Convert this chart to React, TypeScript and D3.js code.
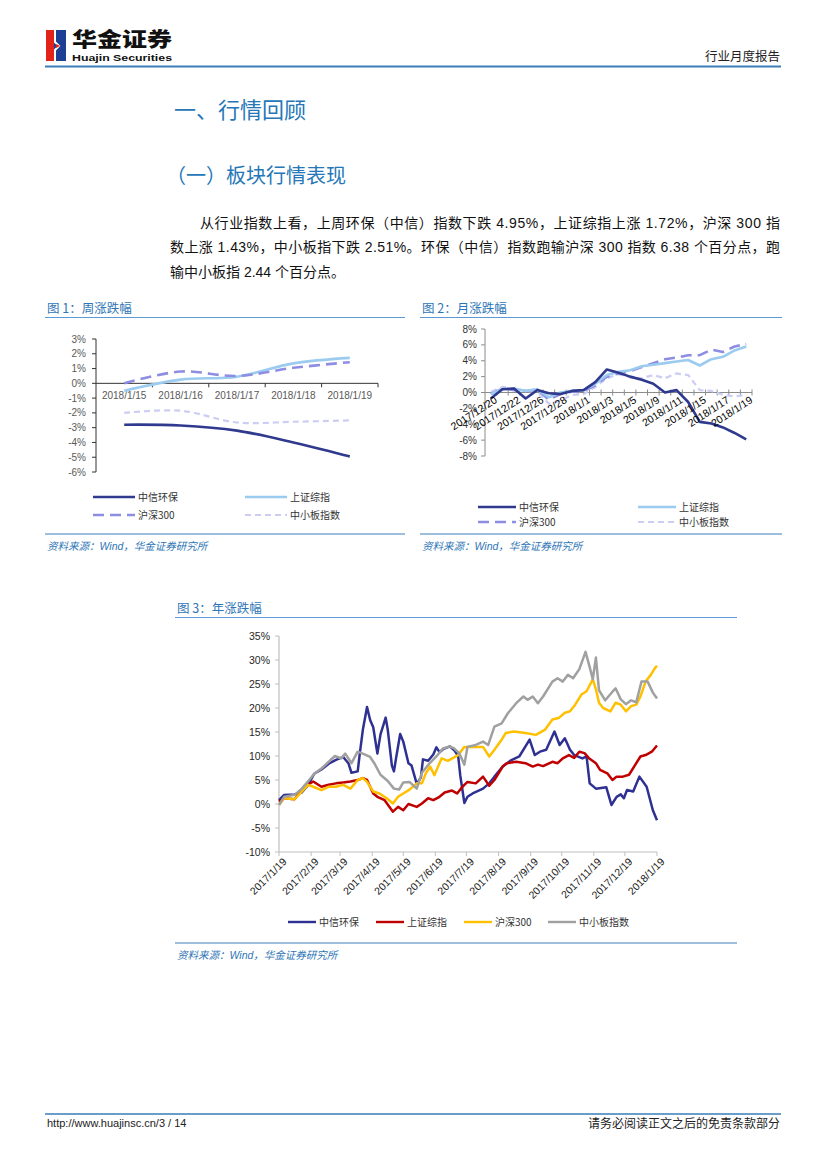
import * as d3 from 'd3'

const LATIN = '"Liberation Sans", Arial, "Noto Sans CJK SC", sans-serif'
const CJK = '"Noto Sans CJK SC", "Liberation Sans", sans-serif'
const HEAD_BLUE = '#2577b8'
const TITLE_BLUE = '#2e75b6'

// 图1：周涨跌幅
const WEEK_DATES = ['2018/1/15', '2018/1/16', '2018/1/17', '2018/1/18', '2018/1/19']
const WEEK_HUANBAO = [-2.8, -2.85, -3.2, -4.0, -4.95]
const WEEK_SHANGZHENG = [-0.5, 0.25, 0.45, 1.35, 1.72]
const WEEK_HS300 = [0, 0.8, 0.5, 1.05, 1.43]
const WEEK_ZXB = [-2.0, -1.85, -2.65, -2.6, -2.51]
const WEEK_TICKS = [3, 2, 1, 0, -1, -2, -3, -4, -5, -6]

// 图2：月涨跌幅
const MONTH_DATES = [
  '2017/12/20', '2017/12/21', '2017/12/22', '2017/12/25', '2017/12/26', '2017/12/27',
  '2017/12/28', '2017/12/29', '2018/1/1', '2018/1/2', '2018/1/3', '2018/1/4', '2018/1/5',
  '2018/1/8', '2018/1/9', '2018/1/10', '2018/1/11', '2018/1/12', '2018/1/15', '2018/1/16',
  '2018/1/17', '2018/1/18', '2018/1/19',
]
const MONTH_HUANBAO = [-0.75, 0.4, 0.5, -0.75, 0.3, -0.1, -0.2, 0.2, 0.3, 1.3, 2.9, 2.5, 2.0, 1.6, 1.1, 0.0, 0.3, -1.2, -3.7, -3.9, -4.4, -5.1, -5.9]
const MONTH_SHANGZHENG = [-0.2, 0.4, 0.5, 0.2, 0.4, -0.6, 0.0, 0.2, 0.3, 1.1, 2.2, 2.6, 2.8, 3.3, 3.5, 3.7, 3.9, 4.1, 3.4, 4.2, 4.5, 5.3, 5.8]
const MONTH_HS300 = [-0.2, 0.5, 0.3, 0.2, 0.4, -0.9, -0.2, 0.1, 0.2, 0.9, 2.0, 2.4, 2.7, 3.2, 3.7, 4.2, 4.4, 4.7, 4.7, 5.4, 5.1, 5.8, 6.1]
const MONTH_ZXB = [0.1, 0.7, 0.5, 0.2, 0.1, -1.4, -1.0, -0.3, -0.2, 0.7, 1.8, 2.3, 1.9, 1.8, 2.2, 1.8, 2.4, 2.2, 0.3, 0.2, -0.3, -0.5, -0.3]
const MONTH_TICKS = [8, 6, 4, 2, 0, -2, -4, -6, -8]

// 图3：年涨跌幅
const YEAR_TICK_DATES = [
  '2017/1/19', '2017/2/19', '2017/3/19', '2017/4/19', '2017/5/19', '2017/6/19', '2017/7/19',
  '2017/8/19', '2017/9/19', '2017/10/19', '2017/11/19', '2017/12/19', '2018/1/19',
]
const YEAR_TICKS = [35, 30, 25, 20, 15, 10, 5, 0, -5, -10]

const YEAR_HUANBAO: [string, number][] = [
  ['2017-01-19', 0.8], ['2017-01-24', 1.9], ['2017-02-03', 2.0], ['2017-02-10', 2.4], ['2017-02-16', 3.9],
  ['2017-02-22', 6.3], ['2017-03-01', 7.2], ['2017-03-08', 8.4], ['2017-03-15', 9.2], ['2017-03-22', 9.8],
  ['2017-03-27', 8.5], ['2017-03-30', 6.5], ['2017-04-05', 6.8], ['2017-04-07', 10.5], ['2017-04-10', 15.5],
  ['2017-04-13', 19.0], ['2017-04-14', 20.2], ['2017-04-17', 17.5], ['2017-04-20', 16.0], ['2017-04-24', 10.5],
  ['2017-04-27', 14.5], ['2017-05-02', 18.0], ['2017-05-04', 15.5], ['2017-05-08', 8.0], ['2017-05-10', 6.8],
  ['2017-05-12', 9.5], ['2017-05-16', 14.6], ['2017-05-19', 13.0], ['2017-05-24', 8.5], ['2017-05-27', 8.0],
  ['2017-06-01', 4.2], ['2017-06-05', 5.5], ['2017-06-07', 9.3], ['2017-06-12', 9.0], ['2017-06-17', 10.3],
  ['2017-06-20', 11.8], ['2017-06-23', 10.8], ['2017-06-27', 11.5], ['2017-07-03', 12.0], ['2017-07-08', 11.0],
  ['2017-07-11', 10.0], ['2017-07-13', 6.0], ['2017-07-17', 0.2], ['2017-07-20', 1.5], ['2017-07-25', 2.2],
  ['2017-08-04', 3.2], ['2017-08-10', 4.3], ['2017-08-15', 5.7], ['2017-08-23', 7.8], ['2017-08-31', 9.1],
  ['2017-09-08', 9.9], ['2017-09-18', 13.4], ['2017-09-23', 10.2], ['2017-09-28', 10.9], ['2017-10-04', 11.3],
  ['2017-10-12', 15.1], ['2017-10-17', 12.3], ['2017-10-22', 13.7], ['2017-10-27', 11.3], ['2017-10-31', 10.2],
  ['2017-11-08', 9.5], ['2017-11-12', 9.9], ['2017-11-15', 4.3], ['2017-11-21', 3.2], ['2017-12-01', 3.5],
  ['2017-12-06', -0.2], ['2017-12-11', 1.5], ['2017-12-15', 2.0], ['2017-12-18', 1.2], ['2017-12-21', 2.9],
  ['2017-12-27', 2.6], ['2018-01-02', 5.7], ['2018-01-09', 3.6], ['2018-01-15', -1.3], ['2018-01-19', -3.4],
]

const YEAR_SHANGZHENG: [string, number][] = [
  ['2017-01-19', 0.5], ['2017-01-24', 1.2], ['2017-02-03', 1.0], ['2017-02-10', 2.9], ['2017-02-16', 4.0],
  ['2017-02-21', 4.7], ['2017-03-01', 3.6], ['2017-03-08', 4.0], ['2017-03-15', 4.3], ['2017-03-22', 4.5],
  ['2017-03-29', 4.7], ['2017-04-05', 5.0], ['2017-04-10', 5.4], ['2017-04-14', 5.0], ['2017-04-20', 2.2],
  ['2017-04-24', 1.5], ['2017-05-01', 0.8], ['2017-05-09', -1.6], ['2017-05-14', -0.6], ['2017-05-19', -1.3],
  ['2017-05-24', 0.0], ['2017-06-01', -0.6], ['2017-06-06', 0.1], ['2017-06-12', 1.2], ['2017-06-17', 0.8],
  ['2017-06-23', 1.5], ['2017-06-28', 2.4], ['2017-07-05', 2.8], ['2017-07-10', 2.2], ['2017-07-14', 3.3],
  ['2017-07-17', 4.0], ['2017-07-20', 4.6], ['2017-07-28', 4.3], ['2017-08-04', 5.7], ['2017-08-10', 3.8],
  ['2017-08-15', 5.0], ['2017-08-23', 7.8], ['2017-08-27', 8.5], ['2017-09-05', 8.8], ['2017-09-14', 8.5],
  ['2017-09-21', 7.8], ['2017-09-26', 8.2], ['2017-10-01', 7.9], ['2017-10-10', 8.8], ['2017-10-15', 8.5],
  ['2017-10-20', 9.5], ['2017-10-26', 10.2], ['2017-10-31', 9.6], ['2017-11-05', 10.9], ['2017-11-10', 10.6],
  ['2017-11-14', 9.6], ['2017-11-21', 8.5], ['2017-11-25', 7.1], ['2017-12-02', 6.4], ['2017-12-07', 5.0],
  ['2017-12-11', 5.7], ['2017-12-17', 5.7], ['2017-12-23', 6.1], ['2017-12-30', 8.5], ['2018-01-03', 9.9],
  ['2018-01-08', 10.2], ['2018-01-14', 10.9], ['2018-01-19', 12.2],
]

const YEAR_HS300: [string, number][] = [
  ['2017-01-19', -0.2], ['2017-01-24', 1.2], ['2017-02-03', 1.0], ['2017-02-10', 2.6], ['2017-02-16', 4.0],
  ['2017-02-21', 3.6], ['2017-03-01', 2.9], ['2017-03-08', 3.6], ['2017-03-15', 3.6], ['2017-03-22', 4.0],
  ['2017-03-29', 3.2], ['2017-04-05', 5.0], ['2017-04-10', 5.4], ['2017-04-14', 4.6], ['2017-04-20', 2.6],
  ['2017-04-26', 2.2], ['2017-05-03', 1.2], ['2017-05-09', 0.1], ['2017-05-14', 1.5], ['2017-05-19', 2.2],
  ['2017-05-25', 3.0], ['2017-06-01', 4.3], ['2017-06-06', 4.3], ['2017-06-10', 6.5], ['2017-06-14', 7.8],
  ['2017-06-18', 6.0], ['2017-06-25', 9.5], ['2017-07-01', 9.0], ['2017-07-11', 10.2], ['2017-07-17', 11.9],
  ['2017-07-28', 11.9], ['2017-08-04', 11.9], ['2017-08-10', 9.9], ['2017-08-15', 11.3], ['2017-08-22', 13.4],
  ['2017-08-26', 14.8], ['2017-09-03', 15.1], ['2017-09-14', 14.8], ['2017-09-24', 14.4], ['2017-10-03', 15.5],
  ['2017-10-10', 17.6], ['2017-10-16', 17.9], ['2017-10-22', 19.0], ['2017-10-27', 19.3], ['2017-11-01', 20.7],
  ['2017-11-07', 22.8], ['2017-11-12', 23.5], ['2017-11-18', 26.0], ['2017-11-21', 23.9], ['2017-11-24', 21.1],
  ['2017-11-28', 20.0], ['2017-12-05', 19.3], ['2017-12-10', 21.1], ['2017-12-15', 20.7], ['2017-12-20', 19.3],
  ['2017-12-25', 20.4], ['2017-12-30', 20.7], ['2018-01-03', 22.4], ['2018-01-08', 25.5], ['2018-01-13', 26.9],
  ['2018-01-17', 28.3], ['2018-01-19', 28.8],
]

const YEAR_ZXB: [string, number][] = [
  ['2017-01-19', -0.2], ['2017-01-24', 1.5], ['2017-02-03', 1.9], ['2017-02-10', 3.2], ['2017-02-16', 4.7],
  ['2017-02-22', 6.3], ['2017-03-01', 7.4], ['2017-03-08', 8.8], ['2017-03-14', 10.0], ['2017-03-20', 9.5],
  ['2017-03-24', 10.5], ['2017-03-30', 8.5], ['2017-04-05', 10.9], ['2017-04-11', 10.4], ['2017-04-17', 9.8],
  ['2017-04-21', 8.5], ['2017-04-27', 6.1], ['2017-05-04', 4.8], ['2017-05-10', 3.2], ['2017-05-15', 3.0],
  ['2017-05-19', 4.5], ['2017-05-25', 4.6], ['2017-06-01', 3.2], ['2017-06-06', 6.5], ['2017-06-13', 8.4],
  ['2017-06-20', 9.9], ['2017-06-26', 11.5], ['2017-07-03', 12.0], ['2017-07-07', 11.6], ['2017-07-12', 10.6],
  ['2017-07-17', 8.2], ['2017-07-20', 11.9], ['2017-07-28', 12.3], ['2017-08-04', 13.0], ['2017-08-09', 12.3],
  ['2017-08-15', 16.1], ['2017-08-22', 16.8], ['2017-08-28', 18.9], ['2017-09-05', 21.0], ['2017-09-12', 22.4],
  ['2017-09-16', 21.7], ['2017-09-21', 22.4], ['2017-09-26', 21.0], ['2017-10-01', 22.4], ['2017-10-10', 25.5],
  ['2017-10-15', 26.2], ['2017-10-20', 25.5], ['2017-10-25', 26.9], ['2017-10-30', 26.2], ['2017-11-05', 28.1],
  ['2017-11-11', 31.7], ['2017-11-15', 28.5], ['2017-11-18', 26.0], ['2017-11-21', 30.5], ['2017-11-24', 23.7],
  ['2017-11-30', 21.6], ['2017-12-07', 23.4], ['2017-12-10', 24.1], ['2017-12-15', 21.8], ['2017-12-20', 20.8],
  ['2017-12-25', 21.6], ['2017-12-30', 21.2], ['2018-01-04', 25.5], ['2018-01-10', 25.5], ['2018-01-15', 23.2],
  ['2018-01-19', 22.0],
]

const PARAGRAPH = [
  '从行业指数上看，上周环保（中信）指数下跌 4.95%，上证综指上涨 1.72%，沪深 300 指',
  '数上涨 1.43%，中小板指下跌 2.51%。环保（中信）指数跑输沪深 300 指数 6.38 个百分点，跑',
  '输中小板指 2.44 个百分点。',
]

type LineStyle = { name: string; color: string; width: number; dash?: string }

const SMALL_STYLES: LineStyle[] = [
  { name: '中信环保', color: '#2f3a8f', width: 2.6 },
  { name: '上证综指', color: '#9ccbf0', width: 2.6 },
  { name: '沪深300', color: '#8d8de3', width: 2.6, dash: '11 6' },
  { name: '中小板指数', color: '#cdcdf3', width: 2.2, dash: '6 4' },
]

const YEAR_STYLES: LineStyle[] = [
  { name: '中信环保', color: '#2e3192', width: 2.5 },
  { name: '上证综指', color: '#c00000', width: 2.5 },
  { name: '沪深300', color: '#ffc000', width: 2.5 },
  { name: '中小板指数', color: '#a0a0a0', width: 2.5 },
]

function Legend2x2({ x1, x2, y1, y2, sample }: { x1: number; x2: number; y1: number; y2: number; sample: number }) {
  const pos = [
    [x1, y1],
    [x2, y1],
    [x1, y2],
    [x2, y2],
  ]
  return (
    <g>
      {SMALL_STYLES.map((s, i) => (
        <g key={s.name}>
          <line
            x1={pos[i][0]}
            x2={pos[i][0] + sample}
            y1={pos[i][1]}
            y2={pos[i][1]}
            stroke={s.color}
            strokeWidth={s.width}
            strokeDasharray={s.dash}
          />
          <text x={pos[i][0] + sample + 3} y={pos[i][1] + 3.6} fontSize={10} fontFamily={CJK} fill="#333">
            {s.name}
          </text>
        </g>
      ))}
    </g>
  )
}

function SectionFrame({ x, w, title, titleY, sourceY }: { x: number; w: number; title: string; titleY: number; sourceY: number }) {
  return (
    <g>
      <text x={x + 2} y={titleY} fontSize={12.5} fontFamily={CJK} fill={TITLE_BLUE}>
        {title}
      </text>
      <line x1={x} x2={x + w} y1={titleY + 5} y2={titleY + 5} stroke="#5b9bd5" strokeWidth={1} />
      <line x1={x} x2={x + w} y1={sourceY} y2={sourceY} stroke="#9dbfdc" strokeWidth={2} />
      <text x={x + 2} y={sourceY + 16} fontSize={10.5} fontStyle="italic" fontFamily={LATIN} fill={TITLE_BLUE}>
        资料来源：Wind，华金证券研究所
      </text>
    </g>
  )
}

function WeekChart() {
  const x = d3.scaleBand<string>().domain(WEEK_DATES).range([96, 378])
  const y = d3.scaleLinear().domain([-6, 3]).range([472, 339])
  const cx = (i: number) => (x(WEEK_DATES[i]) ?? 0) + x.bandwidth() / 2
  const line = d3
    .line<number>()
    .x((_, i) => cx(i))
    .y(v => y(v))
    .curve(d3.curveCatmullRom.alpha(0.5))
  const series = [WEEK_HUANBAO, WEEK_SHANGZHENG, WEEK_HS300, WEEK_ZXB]
  const order = [3, 0, 1, 2]
  return (
    <g fontFamily={LATIN}>
      <line x1={96} x2={96} y1={y(3)} y2={y(-6)} stroke="#333" strokeWidth={1} />
      {WEEK_TICKS.map(t => (
        <g key={t}>
          <line x1={92} x2={96} y1={y(t)} y2={y(t)} stroke="#333" />
          <text x={86} y={y(t) + 3.5} textAnchor="end" fontSize={10} fill="#595959">
            {t}%
          </text>
        </g>
      ))}
      <line x1={96} x2={378} y1={y(0)} y2={y(0)} stroke="#333" strokeWidth={1} />
      {WEEK_DATES.map(d => (
        <line key={d} x1={(x(d) ?? 0) + x.bandwidth()} x2={(x(d) ?? 0) + x.bandwidth()} y1={y(0)} y2={y(0) + 4} stroke="#333" />
      ))}
      {WEEK_DATES.map((d, i) => (
        <text key={d} x={cx(i)} y={y(0) + 16} textAnchor="middle" fontSize={10} fill="#595959">
          {d}
        </text>
      ))}
      {order.map(k => (
        <path
          key={k}
          d={line(series[k]) ?? ''}
          fill="none"
          stroke={SMALL_STYLES[k].color}
          strokeWidth={SMALL_STYLES[k].width}
          strokeDasharray={SMALL_STYLES[k].dash}
        />
      ))}
      <Legend2x2 x1={93} x2={245} y1={497} y2={515} sample={42} />
    </g>
  )
}

function MonthChart() {
  const x = d3.scaleBand<string>().domain(MONTH_DATES).range([485, 752])
  const y = d3.scaleLinear().domain([-8, 8]).range([456, 329])
  const cx = (i: number) => (x(MONTH_DATES[i]) ?? 0) + x.bandwidth() / 2
  const line = d3
    .line<number>()
    .x((_, i) => cx(i))
    .y(v => y(v))
  const series = [MONTH_HUANBAO, MONTH_SHANGZHENG, MONTH_HS300, MONTH_ZXB]
  const order = [3, 2, 1, 0]
  return (
    <g fontFamily={LATIN}>
      <line x1={485} x2={485} y1={y(8)} y2={y(-8)} stroke="#8c8c8c" strokeWidth={1} />
      {MONTH_TICKS.map(t => (
        <g key={t}>
          <line x1={481} x2={485} y1={y(t)} y2={y(t)} stroke="#8c8c8c" />
          <text x={477} y={y(t) + 3.5} textAnchor="end" fontSize={10} fill="#333">
            {t}%
          </text>
        </g>
      ))}
      <line x1={485} x2={752} y1={y(0)} y2={y(0)} stroke="#8c8c8c" strokeWidth={1} />
      {MONTH_DATES.map(d => (
        <line key={d} x1={(x(d) ?? 0) + x.bandwidth()} x2={(x(d) ?? 0) + x.bandwidth()} y1={y(0) - 3} y2={y(0) + 3} stroke="#8c8c8c" />
      ))}
      {order.map(k => (
        <path
          key={k}
          d={line(series[k]) ?? ''}
          fill="none"
          stroke={SMALL_STYLES[k].color}
          strokeWidth={SMALL_STYLES[k].width}
          strokeDasharray={SMALL_STYLES[k].dash}
          strokeLinejoin="round"
        />
      ))}
      {MONTH_DATES.map((d, i) =>
        i % 2 === 0 ? (
          <text
            key={d}
            transform={`translate(${cx(i) + 3},${y(0) + 3}) rotate(-33)`}
            textAnchor="end"
            dy="0.72em"
            fontSize={10.5}
            fill="#000"
          >
            {d}
          </text>
        ) : null,
      )}
      <Legend2x2 x1={478} x2={638} y1={507} y2={522} sample={38} />
    </g>
  )
}

function YearChart() {
  const parse = d3.timeParse('%Y-%m-%d')
  const parseTick = d3.timeParse('%Y/%m/%d')
  const x = d3
    .scaleTime()
    .domain([parseTick('2017/1/19') as Date, parseTick('2018/1/19') as Date])
    .range([279, 657])
  const y = d3.scaleLinear().domain([-10, 35]).range([852, 636])
  const line = d3
    .line<[string, number]>()
    .x(p => x(parse(p[0]) as Date))
    .y(p => y(p[1]))
    .curve(d3.curveLinear)
  const series = [YEAR_HUANBAO, YEAR_SHANGZHENG, YEAR_HS300, YEAR_ZXB]
  const order = [0, 1, 2, 3]
  const legendX = [288, 376, 464, 548]
  return (
    <g fontFamily={LATIN}>
      <line x1={279} x2={279} y1={y(35)} y2={y(-10)} stroke="#bfbfbf" strokeWidth={1.2} />
      {YEAR_TICKS.map(t => (
        <g key={t}>
          <line x1={275} x2={279} y1={y(t)} y2={y(t)} stroke="#bfbfbf" />
          <text x={270} y={y(t) + 3.5} textAnchor="end" fontSize={10.5} fill="#262626">
            {t}%
          </text>
        </g>
      ))}
      <line x1={279} x2={657} y1={y(-10)} y2={y(-10)} stroke="#bfbfbf" strokeWidth={1.2} />
      {YEAR_TICK_DATES.map(d => {
        const tx = x(parseTick(d) as Date)
        return (
          <g key={d}>
            <line x1={tx} x2={tx} y1={y(-10)} y2={y(-10) + 4} stroke="#bfbfbf" />
            <text
              transform={`translate(${tx + 3},${y(-10) + 5}) rotate(-45)`}
              textAnchor="end"
              dy="0.72em"
              fontSize={10.5}
              fill="#1a1a1a"
            >
              {d}
            </text>
          </g>
        )
      })}
      {order.map(k => (
        <path
          key={k}
          d={line(series[k]) ?? ''}
          fill="none"
          stroke={YEAR_STYLES[k].color}
          strokeWidth={YEAR_STYLES[k].width}
          strokeLinejoin="round"
        />
      ))}
      {YEAR_STYLES.map((s, i) => (
        <g key={s.name}>
          <line x1={legendX[i]} x2={legendX[i] + 28} y1={922} y2={922} stroke={s.color} strokeWidth={2.4} />
          <text x={legendX[i] + 31} y={925.6} fontSize={10} fontFamily={CJK} fill="#333">
            {s.name}
          </text>
        </g>
      ))}
    </g>
  )
}

export default function App() {
  const W = 827
  const H = 1169
  return (
    <div style={{ position: 'absolute', left: 0, top: 0, width: W, height: H, background: '#fff' }}>
      <svg width={W} height={H} viewBox={`0 0 ${W} ${H}`}>
        <rect width={W} height={H} fill="#fff" />

        {/* header */}
        <rect x={46} y={30} width={20} height={31} fill="#1d3f94" />
        <rect x={46} y={30} width={8} height={31} fill="#e2231a" />
        <path d="M55,30 L55,42 L59,46 L55,50 L55,61" fill="none" stroke="#fff" strokeWidth={2} />
        <path d="M56,44 L60,46 L56,48 Z" fill="#e2231a" />
        <text x={72} y={47} fontSize={20} fontWeight={900} fontFamily={CJK} fill="#111" textLength={100} lengthAdjust="spacingAndGlyphs">
          华金证券
        </text>
        <text x={72} y={61} fontSize={9} fontWeight={700} fontFamily={LATIN} fill="#111" textLength={100} lengthAdjust="spacingAndGlyphs">
          Huajin Securities
        </text>
        <text x={780} y={61} textAnchor="end" fontSize={12.5} fontFamily={CJK} fill="#222">
          行业月度报告
        </text>
        <line x1={45} x2={781} y1={66.5} y2={66.5} stroke="#3a7db8" strokeWidth={2} />

        {/* headings */}
        <text x={174} y={118} fontSize={22} fontFamily={CJK} fill={HEAD_BLUE}>
          一、行情回顾
        </text>
        <text x={166} y={183} fontSize={20} fontFamily={CJK} fill={HEAD_BLUE}>
          （一）板块行情表现
        </text>

        <g fontFamily={LATIN} fontSize={14} fill="#111">
          <text x={200} y={228} textLength={580} lengthAdjust="spacing">
            {PARAGRAPH[0]}
          </text>
          <text x={170} y={252} textLength={610} lengthAdjust="spacing">
            {PARAGRAPH[1]}
          </text>
          <text x={170} y={277}>{PARAGRAPH[2]}</text>
        </g>

        {/* figure 1 & 2 */}
        <SectionFrame x={45} w={360} title="图 1：周涨跌幅" titleY={312.5} sourceY={534} />
        <SectionFrame x={420} w={362} title="图 2：月涨跌幅" titleY={312.5} sourceY={534} />
        <WeekChart />
        <MonthChart />

        {/* figure 3 */}
        <SectionFrame x={175} w={562} title="图 3：年涨跌幅" titleY={612.5} sourceY={943} />
        <YearChart />

        {/* footer */}
        <line x1={45} x2={781} y1={1114} y2={1114} stroke="#3a7db8" strokeWidth={1.5} />
        <text x={47} y={1127} fontSize={11} fontFamily={LATIN} fill="#222">
          http://www.huajinsc.cn/3 / 14
        </text>
        <text x={780} y={1127.5} textAnchor="end" fontSize={12} fontFamily={CJK} fill="#222">
          请务必阅读正文之后的免责条款部分
        </text>
      </svg>
    </div>
  )
}
